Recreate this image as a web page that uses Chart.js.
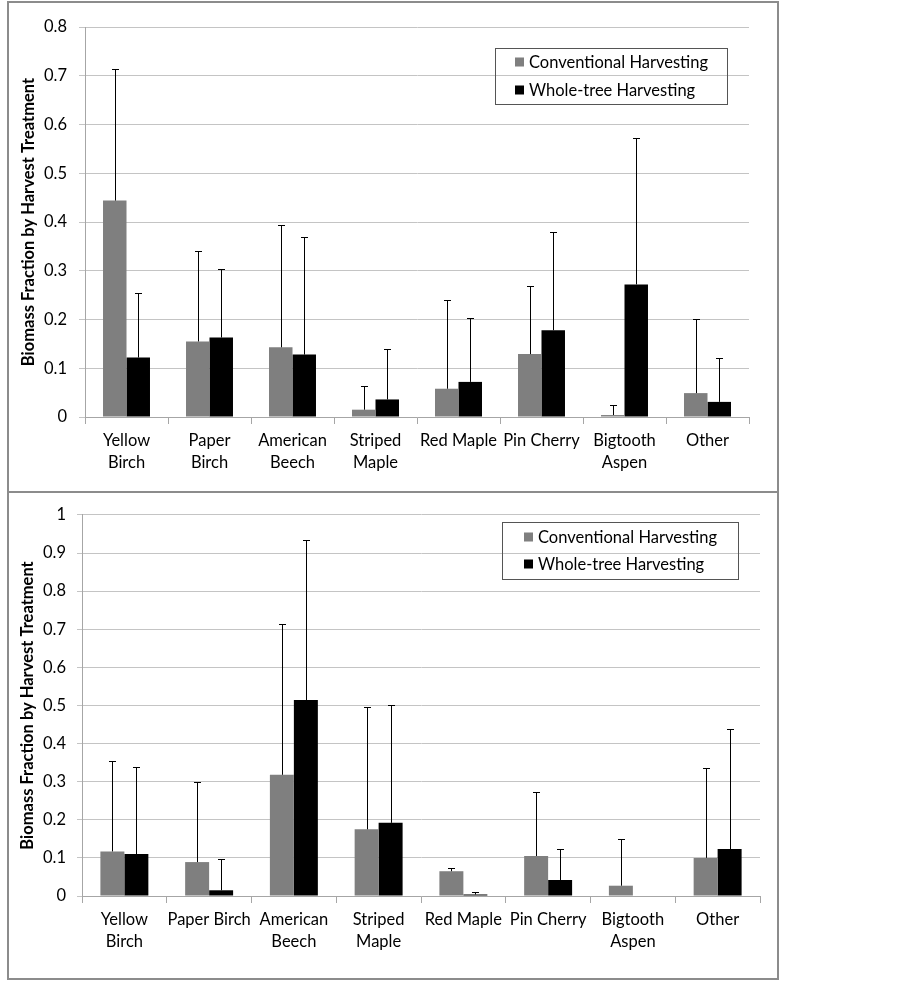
<!DOCTYPE html>
<html>
<head>
<meta charset="utf-8">
<script src="https://cdn.jsdelivr.net/npm/chart.js@4.4.1/dist/chart.umd.min.js"></script>
<style>
  body { margin: 0; background: #fff; }
  .caja { position: absolute; box-sizing: border-box; border: 2px solid #8c8c8c; background: #fff; }
  canvas { position: absolute; }
</style>
</head>
<body>
<div class="caja" style="left:7px; top:1px; width:772px; height:492px;"></div>
<div class="caja" style="left:7px; top:491px; width:772px; height:489px;"></div>
<canvas id="ch-arriba" width="766" height="486" style="left:10px; top:4px;"></canvas>
<canvas id="ch-abajo" width="766" height="482" style="left:10px; top:494px;"></canvas>
<script>
// ---- datos ----
const SERIES = ["Conventional Harvesting", "Whole-tree Harvesting"];

const ESPECIES_ARRIBA = [
  ["Yellow", "Birch"], ["Paper", "Birch"], ["American", "Beech"], ["Striped", "Maple"],
  "Red Maple", "Pin Cherry", ["Bigtooth", "Aspen"], "Other"
];
const ESPECIES_ABAJO = [
  ["Yellow", "Birch"], "Paper Birch", ["American", "Beech"], ["Striped", "Maple"],
  "Red Maple", "Pin Cherry", ["Bigtooth", "Aspen"], "Other"
];

// panel superior
const CONV_ARRIBA = [0.444, 0.155, 0.143, 0.015, 0.058, 0.129, 0.004, 0.049];
const CONV_ARRIBA_ERR = [0.270, 0.186, 0.251, 0.049, 0.181, 0.140, 0.020, 0.152];
const ENTERO_ARRIBA = [0.122, 0.163, 0.128, 0.036, 0.072, 0.178, 0.272, 0.031];
const ENTERO_ARRIBA_ERR = [0.133, 0.141, 0.241, 0.103, 0.132, 0.201, 0.301, 0.091];

// panel inferior
const CONV_ABAJO = [0.117, 0.089, 0.318, 0.175, 0.065, 0.105, 0.027, 0.100];
const CONV_ABAJO_ERR = [0.237, 0.209, 0.397, 0.322, 0.008, 0.168, 0.123, 0.237];
const ENTERO_ABAJO = [0.110, 0.015, 0.514, 0.192, 0.004, 0.042, 0, 0.123];
const ENTERO_ABAJO_ERR = [0.228, 0.081, 0.420, 0.308, 0.006, 0.081, null, 0.316];

const TICKS_ARRIBA_MAX = 0.8;
const TICKS_ABAJO_MAX = 1;

const COLORES = { conv: "#7f7f7f", entero: "#000000" };
const FUENTE = "Lato, 'Open Sans', sans-serif";

Chart.defaults.font.family = FUENTE;
Chart.defaults.color = "#000";

// barras de error (solo hacia arriba)
const pluginErrores = {
  id: "barrasError",
  afterDatasetsDraw(chart) {
    const { ctx } = chart;
    const y = chart.scales.y;
    ctx.save();
    ctx.strokeStyle = "#000";
    ctx.lineWidth = 1;
    chart.data.datasets.forEach((ds, i) => {
      const meta = chart.getDatasetMeta(i);
      meta.data.forEach((barra, j) => {
        const e = ds.errores[j];
        if (e == null) return;
        const xs = Math.round(barra.x) + 0.5;
        const yTop = Math.round(y.getPixelForValue(ds.data[j] + e)) + 0.5;
        ctx.beginPath();
        ctx.moveTo(xs, barra.y);
        ctx.lineTo(xs, yTop);
        ctx.moveTo(xs - 3.5, yTop);
        ctx.lineTo(xs + 3.5, yTop);
        ctx.stroke();
      });
    });
    ctx.restore();
  }
};

// leyenda dentro del área
const pluginLeyenda = {
  id: "leyendaCaja",
  afterDraw(chart, args, opts) {
    const { ctx } = chart;
    const { x, y, w, h } = opts.caja;
    ctx.save();
    ctx.strokeStyle = "#555";
    ctx.lineWidth = 1;
    ctx.strokeRect(x + 0.5, y + 0.5, w, h);
    ctx.font = "16.5px " + FUENTE;
    ctx.textBaseline = "middle";
    chart.data.datasets.forEach((ds, i) => {
      const cy = y + opts.fila0 + i * opts.paso;
      ctx.fillStyle = ds.backgroundColor;
      ctx.fillRect(x + opts.margen, cy - 4.5, 9, 9);
      ctx.fillStyle = "#000";
      ctx.fillText(ds.label, x + opts.margen + 14, cy + 1);
    });
    ctx.restore();
  }
};

function crearGrafica(id, etiquetas, conv, convErr, entero, enteroErr, maximo, cfg) {
  return new Chart(document.getElementById(id), {
    type: "bar",
    data: {
      labels: etiquetas,
      datasets: [
        { label: SERIES[0], data: conv, errores: convErr, backgroundColor: COLORES.conv },
        { label: SERIES[1], data: entero, errores: enteroErr, backgroundColor: COLORES.entero }
      ]
    },
    plugins: [pluginErrores, pluginLeyenda],
    options: {
      responsive: false,
      animation: false,
      categoryPercentage: 0.566,
      barPercentage: 1,
      layout: { padding: { top: cfg.arriba, right: cfg.derecha, left: 0, bottom: 0 } },
      plugins: {
        legend: { display: false },
        tooltip: { enabled: false },
        leyendaCaja: { caja: cfg.caja, fila0: cfg.fila0, paso: cfg.paso, margen: cfg.margen }
      },
      scales: {
        x: {
          afterFit: s => { s.height = cfg.altoX; },
          grid: { drawOnChartArea: false, drawTicks: true, tickLength: 7, color: "#a6a6a6", offset: true },
          border: { color: "#a6a6a6" },
          ticks: {
            autoSkip: false, maxRotation: 0, minRotation: 0, padding: 6,
            font: { size: 16.5, lineHeight: 1.32 }, color: "#000"
          }
        },
        y: {
          min: 0,
          max: maximo,
          afterFit: s => { s.width = cfg.anchoY; },
          grid: { color: "#c4c4c4", tickLength: cfg.tick },
          border: { color: "#a6a6a6" },
          ticks: {
            stepSize: 0.1, padding: cfg.padTick,
            font: { size: 16.5 }, color: "#000",
            callback: v => String(Math.round(v * 10) / 10)
          },
          title: {
            display: true,
            text: "Biomass Fraction by Harvest Treatment",
            font: { size: 16.5, weight: "bold" },
            color: "#000",
            padding: { top: cfg.padTitulo, bottom: 0 }
          }
        }
      }
    }
  });
}

const graficas = {};

graficas.arriba = crearGrafica("ch-arriba", ESPECIES_ARRIBA,
  CONV_ARRIBA, CONV_ARRIBA_ERR, ENTERO_ARRIBA, ENTERO_ARRIBA_ERR, TICKS_ARRIBA_MAX, {
    arriba: 23, derecha: 27, altoX: 73, anchoY: 75, tick: 6, padTick: 12, padTitulo: 9,
    caja: { x: 485, y: 44, w: 232, h: 56 }, fila0: 14, paso: 28, margen: 20
  });

graficas.abajo = crearGrafica("ch-abajo", ESPECIES_ABAJO,
  CONV_ABAJO, CONV_ABAJO_ERR, ENTERO_ABAJO, ENTERO_ABAJO_ERR, TICKS_ABAJO_MAX, {
    arriba: 19, derecha: 16, altoX: 80, anchoY: 72, tick: 5, padTick: 11, padTitulo: 8,
    caja: { x: 492, y: 28, w: 236, h: 57 }, fila0: 15, paso: 27, margen: 22
  });
</script>
</body>
</html>
